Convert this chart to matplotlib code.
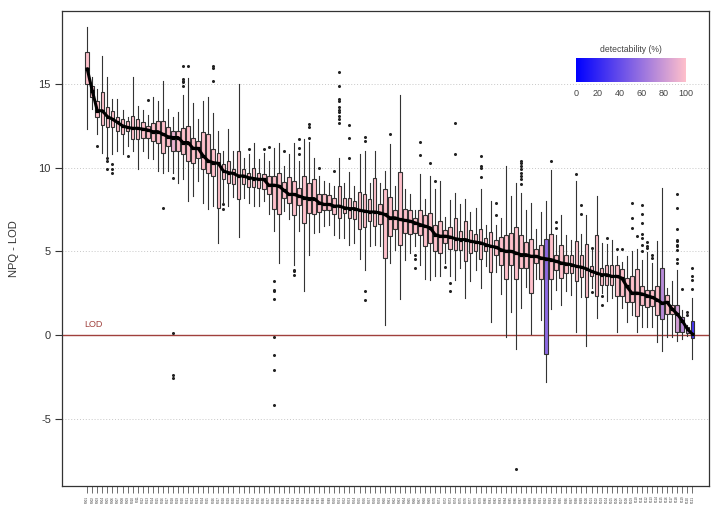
import matplotlib
matplotlib.use("Agg")
import matplotlib.pyplot as plt
import numpy as np
from matplotlib.colors import LinearSegmentedColormap

plt.rcParams['font.family'] = ['Liberation Sans', 'DejaVu Sans']

# ---- data ----
whisker_high = [18.4, 15.4, 14.7, 16.7, 15.4, 14.1, 14.1, 13.45, 13.05, 15.4,
                13.7, 13.45, 13.15, 14.2, 14.0, 15.2, 13.5, 13.05, 13.3, 14.35,
                15.35, 13.85, 12.9, 14.0, 14.2, 13.25, 12.2, 11.0, 12.3, 11.0,
                15.0, 10.6, 10.8, 11.5, 10.5, 10.85, 10.4, 11.2, 11.5, 10.1,
                10.8, 11.5, 10.4, 11.7, 11.55, 10.6, 9.5, 9.2, 9.1, 8.9,
                10.6, 9.1, 9.75, 8.9, 10.8, 11.0, 9.1, 11.0, 9.1, 9.8,
                11.4, 8.9, 14.35, 8.7, 8.4, 7.45, 9.6, 8.1, 9.5, 8.7,
                9.2, 7.05, 8.05, 8.5, 7.85, 8.15, 7.35, 7.6, 8.7, 6.6,
                8.0, 6.55, 7.0, 10.1, 8.3, 9.1, 8.5, 7.45, 7.9, 6.35,
                7.35, 8.0, 9.85, 5.95, 7.15, 6.0, 5.7, 9.2, 6.05, 7.15,
                5.1, 8.3, 5.5, 5.45, 5.7, 4.7, 4.35, 4.7, 5.0, 5.15,
                4.5, 4.95, 4.3, 5.6, 8.8, 2.8, 3.2, 3.9, 1.5, 0.6,
                2.2]
q3 = [16.9, 14.87, 14.0, 14.5, 13.6, 13.4, 13.05, 12.9, 12.8, 13.1,
      12.9, 12.75, 12.5, 12.65, 12.8, 12.8, 12.45, 12.2, 12.2, 12.35,
      12.5, 11.75, 11.6, 12.15, 12.0, 11.1, 10.9, 10.2, 10.4, 9.9,
      11.0, 9.9, 9.7, 10.0, 9.7, 9.6, 9.5, 9.5, 9.7, 9.15,
      9.45, 9.2, 8.8, 9.5, 9.1, 9.3, 8.4, 8.4, 8.35, 8.2,
      8.9, 8.2, 8.2, 8.0, 8.55, 8.4, 8.1, 9.4, 7.8, 8.7,
      8.25, 7.45, 9.75, 7.55, 7.45, 7.0, 7.45, 7.15, 7.3, 6.55,
      6.8, 6.3, 6.45, 7.0, 6.2, 6.8, 6.25, 6.05, 6.35, 5.8,
      6.15, 5.7, 5.85, 6.0, 6.1, 6.45, 5.95, 5.55, 5.75, 5.15,
      5.4, 5.75, 6.05, 4.8, 5.35, 4.8, 4.8, 5.6, 4.75, 5.45,
      4.1, 6.0, 4.0, 4.15, 4.15, 4.2, 3.95, 3.4, 3.5, 3.95,
      2.9, 2.7, 2.7, 2.9, 4.0, 2.4, 1.8, 1.8, 1.05, 0.45,
      0.85]
median = [15.9, 14.6, 13.4, 13.4, 13.05, 12.9, 12.7, 12.5, 12.4, 12.35,
          12.35, 12.3, 12.25, 12.15, 12.15, 12.0, 11.85, 11.8, 11.8, 11.5,
          11.5, 11.15, 11.15, 10.7, 10.4, 10.3, 10.25, 9.8, 9.7, 9.65,
          9.5, 9.5, 9.4, 9.35, 9.3, 9.3, 8.95, 8.95, 8.9, 8.65,
          8.4, 8.4, 8.3, 8.2, 8.15, 8.15, 7.9, 7.8, 7.8, 7.7,
          7.7, 7.6, 7.55, 7.55, 7.45, 7.4, 7.35, 7.35, 7.3, 7.2,
          7.0, 7.0, 6.9, 6.85, 6.8, 6.7, 6.6, 6.5, 6.4, 6.0,
          5.9, 5.9, 5.85, 5.75, 5.7, 5.7, 5.6, 5.55, 5.5, 5.4,
          5.3, 5.25, 5.1, 5.0, 5.0, 4.9, 4.8, 4.8, 4.7, 4.7,
          4.6, 4.55, 4.5, 4.4, 4.3, 4.25, 4.2, 4.1, 4.05, 3.95,
          3.8, 3.7, 3.6, 3.6, 3.5, 3.5, 3.4, 2.9, 2.5, 2.5,
          2.45, 2.35, 2.25, 2.1, 1.9, 1.95, 1.55, 1.25, 0.85, 0.35,
          0.05]
q1 = [15.0, 14.2, 13.05, 12.55, 12.4, 12.4, 12.2, 12.0, 12.2, 11.7,
      11.7, 11.75, 11.75, 11.6, 11.5, 10.9, 11.3, 11.0, 11.0, 10.8,
      10.4, 10.25, 10.6, 9.9, 9.7, 9.5, 7.6, 9.3, 9.1, 9.0,
      8.1, 9.05, 8.85, 8.85, 8.8, 8.7, 8.45, 7.5, 7.2, 8.2,
      7.9, 7.15, 7.75, 6.7, 7.3, 7.25, 7.35, 7.45, 7.45, 7.2,
      7.0, 7.3, 7.0, 6.9, 6.35, 6.45, 6.8, 6.5, 6.65, 4.6,
      5.9, 6.35, 5.4, 6.1, 6.05, 6.1, 6.0, 5.3, 5.5, 5.0,
      4.9, 5.5, 5.15, 5.05, 5.1, 4.4, 4.9, 5.0, 4.55, 5.0,
      3.75, 4.75, 4.15, 3.35, 4.2, 3.35, 4.0, 4.0, 2.5, 4.3,
      3.35, -1.15, 3.35, 3.9, 3.4, 3.7, 3.7, 3.2, 3.45, 2.25,
      3.5, 2.3, 3.0, 3.0, 3.0, 2.35, 2.35, 1.95, 1.95, 1.15,
      1.8, 1.65, 1.75, 1.2, 0.95, 1.25, 1.25, 0.15, 0.15, 0.1,
      -0.2]
whisker_low = [12.3, 13.5, 12.0, 10.9, 10.7, 10.8, 11.0, 10.8, 11.3, 11.0,
               9.9, 11.0, 10.6, 10.5, 9.8, 9.7, 9.8, 9.7, 9.1, 9.3,
               8.0, 8.3, 9.2, 7.9, 7.5, 7.7, 5.5, 7.9, 7.7, 8.25,
               5.85, 8.2, 7.9, 7.7, 7.7, 8.0, 7.25, 6.2, 4.3, 7.4,
               6.95, 4.15, 6.2, 2.6, 4.8, 6.1, 6.15, 6.5, 6.55, 6.0,
               5.8, 5.8, 5.35, 5.5, 4.55, 3.9, 5.3, 5.35, 5.3, 0.6,
               4.3, 5.1, 2.15, 4.5, 4.9, 5.3, 4.2, 3.35, 3.3, 3.5,
               3.5, 4.3, 3.5, 3.3, 4.0, 2.2, 3.2, 3.9, 2.8, 4.1,
               0.75, 3.75, 2.45, -0.15, 1.35, -0.85, 1.6, 2.85, 0.05, 3.35,
               0.9, -2.8, 1.55, 2.7, 1.8, 2.6, 2.4, 0.2, 2.25, -0.65,
               2.8, 1.0, 2.5, 2.05, 2.2, 0.15, 1.6, 0.8, 1.2, 0.15,
               0.45, 0.45, 0.45, -0.4, -0.95, -0.1, -0.15, -0.35, -0.25, -0.05,
               -1.45]
outliers = {
    3: [11.3], 5: [10.6, 10.4, 9.9], 6: [10.2, 9.9, 9.7], 9: [10.7],
    13: [14.05], 16: [7.6], 18: [9.4, 0.1, -2.4, -2.6],
    20: [16.1, 15.3, 15.2, 15.1, 14.85], 21: [16.1],
    26: [16.05, 15.95, 15.2], 28: [7.8, 7.55], 33: [11.1], 36: [11.1],
    37: [11.25], 38: [3.2, 2.7, 2.6, 2.15, -0.1, -1.2, -2.1, -4.2],
    40: [11.0], 42: [3.9, 3.8, 3.6], 43: [11.7, 11.2, 10.8],
    45: [12.6, 12.45, 11.8], 47: [10.0], 50: [9.8],
    51: [15.7, 14.85, 14.1, 14.0, 13.6, 13.45, 13.3, 13.1, 12.9, 12.65],
    53: [12.55, 11.75, 10.6], 56: [11.85, 11.6, 2.6, 2.1], 61: [12.0],
    66: [4.8, 4.55, 4.0], 67: [11.55, 10.75], 69: [10.3], 70: [9.2],
    72: [4.05], 73: [3.1, 2.6], 74: [12.65, 10.8],
    79: [10.7, 10.1, 9.95, 9.45], 82: [7.9, 7.15], 86: [-8.0],
    87: [10.4, 10.25, 10.1, 9.9, 9.7, 9.5, 9.3, 9.0], 93: [10.4],
    94: [6.75, 6.4], 98: [9.6], 99: [7.75, 7.2], 101: [5.2, 2.55],
    103: [2.3, 1.8], 104: [5.8], 106: [5.15], 107: [5.15],
    109: [7.9, 7.0, 6.4], 110: [5.9],
    111: [7.75, 7.2, 6.7, 6.05, 5.8, 5.4, 5.0], 112: [5.55, 5.3, 5.2],
    113: [4.75, 4.6],
    118: [8.4, 7.6, 6.35, 5.7, 5.6, 5.4, 5.3, 5.1, 4.55, 4.3],
    119: [2.75], 120: [1.4, 1.2], 121: [4.0, 3.5, 3.3, 2.75],
}
n_box = len(median)
detectability = [100.0] * n_box
for k, v in {18: 92, 92: 55, 115: 72, 118: 82, 119: 72, 120: 80, 121: 28}.items():
    detectability[k - 1] = v

box_labels = [f"P{i:03d}" for i in range(1, n_box + 1)]

# ---- figure ----
fig = plt.figure(figsize=(7.12, 5.09), dpi=100)
ax = fig.add_axes([62 / 712, 1 - 486 / 509, (709 - 62) / 712, (486 - 10.7) / 509])

cmap = LinearSegmentedColormap.from_list("det", ["#0000ff", "#ffc0cb"])

positions = np.arange(1, n_box + 1)
stats = []
for i in range(n_box):
    stats.append(dict(med=median[i], q1=q1[i], q3=q3[i],
                      whislo=whisker_low[i], whishi=whisker_high[i],
                      fliers=outliers.get(i + 1, [])))

for yv in [-5, 5, 10, 15]:
    ax.axhline(yv, color="#c8c8c8", lw=0.7, ls=(0, (1, 2)), zorder=0)
ax.axhline(0, color="#a0403c", lw=1.0, zorder=1)
ax.text(0.5, 0.35, "LOD", color="#a0403c", fontsize=6.5, va="bottom", ha="left")

bp = ax.bxp(stats, positions=positions, widths=0.72, patch_artist=True,
            showcaps=False,
            boxprops=dict(edgecolor="#333333", linewidth=0.8),
            whiskerprops=dict(color="#333333", linewidth=0.8),
            medianprops=dict(color="black", linewidth=2.3),
            flierprops=dict(marker="o", markersize=1.2, markerfacecolor="#222222",
                            markeredgecolor="#222222", linestyle="none"))
for patch, d in zip(bp["boxes"], detectability):
    patch.set_facecolor(cmap(d / 100.0))
    patch.set_zorder(2)
ax.plot(positions, median, color="black", lw=2.2, zorder=3)

ax.set_xlim(-4.0, 124.3)
ax.set_ylim(-9.03, 19.38)
ax.set_yticks([-5, 0, 5, 10, 15])
ax.set_yticklabels(["-5", "0", "5", "10", "15"])
ax.tick_params(axis="y", labelsize=8, length=5, width=0.8, colors="#333333", pad=3)
ax.set_xticks(positions)
ax.set_xticklabels(box_labels, rotation=90, fontsize=2.2)
ax.tick_params(axis="x", length=5, width=0.5, colors="#333333", pad=2)
for s in ax.spines.values():
    s.set_color("#333333")
    s.set_linewidth(0.9)
ax.set_ylabel("NPQ - LOD", fontsize=8, color="#333333", labelpad=14)

# colour legend
cax = fig.add_axes([576 / 712, 1 - 82 / 509, 110 / 712, 24 / 509])
grad = np.linspace(0, 100, 256).reshape(1, -1)
cax.imshow(grad, aspect="auto", cmap=cmap, extent=[0, 100, 0, 1])
cax.set_yticks([])
cax.set_xticks([0, 20, 40, 60, 80, 100])
cax.tick_params(axis="x", length=0, labelsize=6.5, colors="#444444", pad=5)
for s in cax.spines.values():
    s.set_visible(False)
cax.set_title("detectability (%)", fontsize=6.2, color="#444444", pad=4)

fig.savefig("out.png", dpi=100)
